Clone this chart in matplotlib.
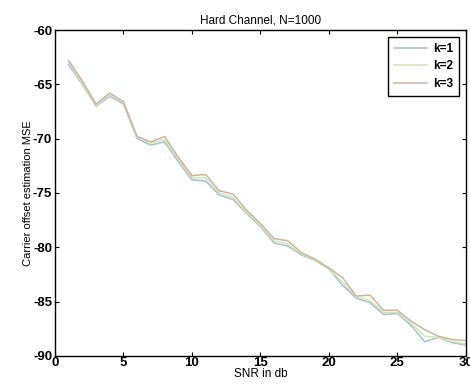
"""Carrier offset estimation MSE vs SNR (hard channel)."""

import matplotlib
matplotlib.use('Agg')  # Non-interactive backend
import matplotlib.pyplot as plt

# Data
snr = list(range(1, 31))
mse_k1 = [-63.2, -65.0, -67.0, -66.1, -66.8, -70.0, -70.6, -70.3, -72.1, -73.8,
          -73.9, -75.2, -75.6, -76.9, -78.1, -79.6, -79.9, -80.7, -81.2, -82.0,
          -83.5, -84.7, -85.1, -86.2, -86.1, -87.2, -88.7, -88.3, -88.8, -89.0]
mse_k2 = [-63.0, -64.9, -66.9, -66.0, -66.7, -69.9, -70.4, -70.1, -71.9, -73.6,
          -73.6, -75.0, -75.4, -76.8, -78.0, -79.4, -79.7, -80.6, -81.2, -82.0,
          -83.2, -84.6, -84.9, -86.0, -86.0, -87.0, -88.2, -88.3, -88.7, -88.9]
mse_k3 = [-62.8, -64.7, -66.8, -65.8, -66.6, -69.8, -70.3, -69.8, -71.7, -73.4,
          -73.3, -74.8, -75.1, -76.6, -77.8, -79.2, -79.4, -80.5, -81.1, -81.9,
          -82.8, -84.5, -84.4, -85.8, -85.8, -86.8, -87.6, -88.2, -88.5, -88.6]
labels = ['k=1', 'k=2', 'k=3']
colors = ['#9cc4d2', '#d6e2b4', '#d2b29e']

plt.rcParams['font.family'] = ['Liberation Sans', 'DejaVu Sans']
plt.rcParams['axes.unicode_minus'] = False

fig = plt.figure(figsize=(4.7, 3.91), dpi=100)
ax = fig.add_axes([0.117, 0.09, 0.874, 0.833])

for ys, lab, col in zip([mse_k1, mse_k2, mse_k3], labels, colors):
    ax.plot(snr, ys, color=col, linewidth=1.1, label=lab)

ax.set_xlim(0, 30)
ax.set_ylim(-90, -60)
ax.set_xticks(range(0, 31, 5))
ax.set_yticks(range(-90, -59, 5))
ax.tick_params(direction='in', top=True, right=True, length=3, labelsize=9.5)
for lab in ax.get_xticklabels() + ax.get_yticklabels():
    lab.set_fontweight('bold')
ax.tick_params(axis='x', pad=1)
ax.tick_params(axis='y', pad=2)
for sp in ax.spines.values():
    sp.set_linewidth(1.0)

ax.set_title('Hard Channel, N=1000', fontsize=8.5, pad=5)
ax.set_xlabel('SNR in db', fontsize=8.5, labelpad=-1)
ax.set_ylabel('Carrier offset estimation MSE', fontsize=8, labelpad=0)

leg = ax.legend(loc='upper right', fontsize=8.5, fancybox=False, framealpha=1,
                edgecolor='black', handlelength=2.8, borderaxespad=0.6,
                labelspacing=0.45, handletextpad=0.5, borderpad=0.5)
leg.get_frame().set_linewidth(1.0)
for t in leg.get_texts():
    t.set_fontweight('bold')

plt.savefig('out.png', dpi=100)
plt.close()
